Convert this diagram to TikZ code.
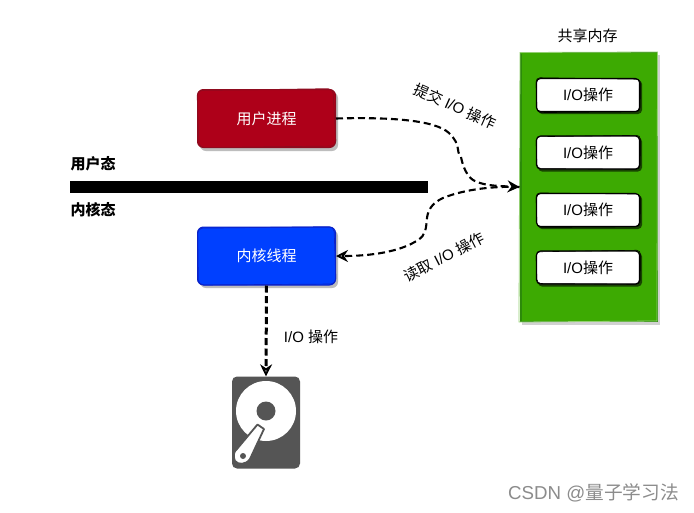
\documentclass[tikz,border=0pt]{standalone}
\usepackage{fontspec}
\setmainfont{Liberation Sans}
\newfontfamily\cjk{Noto Sans CJK SC}
\usetikzlibrary{arrows.meta,calc}
\definecolor{redfill}{HTML}{AE0019}
\definecolor{redline}{HTML}{8F0A1E}
\definecolor{bluefill}{HTML}{0040FF}
\definecolor{blueline}{HTML}{0B22C8}
\definecolor{greenfill}{HTML}{3DAA02}
\definecolor{greenline}{HTML}{2C8A0A}
\definecolor{diskgrey}{HTML}{555555}
\definecolor{shadegrey}{HTML}{BDBDBD}
\tikzset{
  shade box/.style={fill=shadegrey,rounded corners=6pt},
  procbox/.style={minimum width=138pt,minimum height=58pt,inner sep=0pt,rounded corners=6pt,line width=1pt,text=white,font=\fontsize{15}{17}\selectfont\cjk},
  iobox/.style={fill=white,draw=black,line width=1.1pt,minimum width=103pt,minimum height=33pt,inner sep=0pt,rounded corners=4pt,font=\fontsize{15}{17}\selectfont},
  sketch/.style={line width=.7pt,rounded corners=5pt},
  lbl/.style={inner sep=0pt,font=\fontsize{15}{17}\selectfont},
  boldlbl/.style={inner sep=0pt,font=\fontsize{15}{17}\selectfont\cjk\bfseries},
  flow/.style={draw=black,line width=2.1pt,dash pattern=on 7pt off 4pt},
  tip/.style={-{Stealth[open,length=12pt,width=12pt,inset=4pt,sep=0pt,line width=1.9pt]}},
}
\begin{document}
\begin{tikzpicture}[x=1pt,y=-1pt]
\useasboundingbox (0,0) rectangle (694,512);
\fill[white] (0,0) rectangle (694,512);

% divider and side labels
\node[fill=black,minimum width=358pt,minimum height=12pt,inner sep=0pt] (bar) at (249,187) {};
\node[boldlbl] (ulabel) at (93,164) {用户态};
\node[boldlbl] (klabel) at (93,210) {内核态};

% process boxes
\fill[shade box] (200,92) rectangle (338,151);
\node[procbox,fill=redfill,draw=redline] (user) at (266.5,118.5) {用户进程};
\draw[sketch,redline] (197,90.5) -- (333,88.6) -- (336,146) -- (199,147.6) -- cycle;
\fill[shade box] (200,230) rectangle (338,288);
\node[procbox,fill=bluefill,draw=blueline] (kernel) at (266.5,256) {内核线程};
\draw[sketch,blueline] (197.6,228.2) -- (334,226.6) -- (336,284) -- (198.4,285) -- cycle;

% shared memory
\node[lbl,font=\fontsize{15}{17}\selectfont\cjk] (shmlabel) at (587.5,35.5) {共享内存};
\fill[shadegrey!70!white] (522,55) rectangle (660,325);
\node[fill=greenfill,draw=greenline,line width=1pt,minimum width=137pt,minimum height=269pt,inner sep=0pt] (shm) at (588.5,187) {};
\draw[line width=.8pt,greenfill!55!white] (520,52.5) -- (657.5,52) -- (657,321) -- (519,322) -- cycle;
\draw[line width=.8pt,greenline] (521,54) -- (521,321);
\foreach \nm/\yy/\dd in {a/95/.8,b/152.5/-.7,c/210/.6,d/267.5/-.8}{
  \fill[black!60!greenfill,rounded corners=4pt] (538,\yy-15) rectangle (642,\yy+19);
  \node[iobox] (io\nm) at (588,\yy) {I/O{\cjk 操作}};
  \draw[line width=.6pt,rounded corners=4pt,black] (536,\yy-16.5-\dd) -- (640.5,\yy-16.5+\dd) -- (640,\yy+16.8) -- (537,\yy+16.8+\dd) -- cycle;
}

% disk
\node[fill=diskgrey,minimum width=68pt,minimum height=92pt,inner sep=0pt,rounded corners=5pt] (disk) at (266,422.5) {};
\fill[white] (266,411) circle[radius=30pt];
\fill[diskgrey] (266,411) circle[radius=9.5pt];
\draw[diskgrey,line width=1.8pt,fill=white,line join=round]
  (257.5,424.5) -- (264,429) -- (250,459) .. controls (246,465) and (238,465) .. (235,461)
  .. controls (232.5,456) and (234,451) .. (237,449) -- cycle;
\fill[diskgrey] (243,456) circle[radius=3pt];

% connectors
\coordinate (r1) at (449,133);
\coordinate (r2) at (461,157);
\coordinate (r3) at (475,181);
\coordinate (k1) at (443,198);
\coordinate (k2) at (427,218);
\coordinate (k3) at (418,240);
\draw[flow,tip] (user.east) .. controls (390,117) and (435,120) .. (r1)
  .. controls (462,146) and (455,150) .. (r2)
  .. controls (464,172) and (470,179) .. (r3)
  .. controls (485,186) and (500,186) .. (shm.west);
\draw[flow,tip] (shm.west) .. controls (495,186) and (465,189) .. (k1)
  .. controls (432,203) and (428,210) .. (k2)
  .. controls (426,228) and (426,235) .. (k3)
  .. controls (400,252) and (370,256) .. (kernel.east);
\draw[flow,tip,line width=3pt,dash pattern=on 7pt off 3.5pt] (kernel.south) -- (disk.north);

% connector labels
\node[lbl,rotate=-24] (sublabel) at (455,106) {{\cjk 提交} I/O {\cjk 操作}};
\node[lbl,rotate=27] (readlabel) at (444,257) {{\cjk 读取} I/O {\cjk 操作}};
\node[lbl] (iolabel) at (311,337) {I/O {\cjk 操作}};

% watermark
\node[inner sep=0pt,text=black!45,anchor=east,font=\fontsize{18.7}{21}\selectfont] (mark) at (679,493) {CSDN @{\cjk 量子学习法}};
\end{tikzpicture}
\end{document}
